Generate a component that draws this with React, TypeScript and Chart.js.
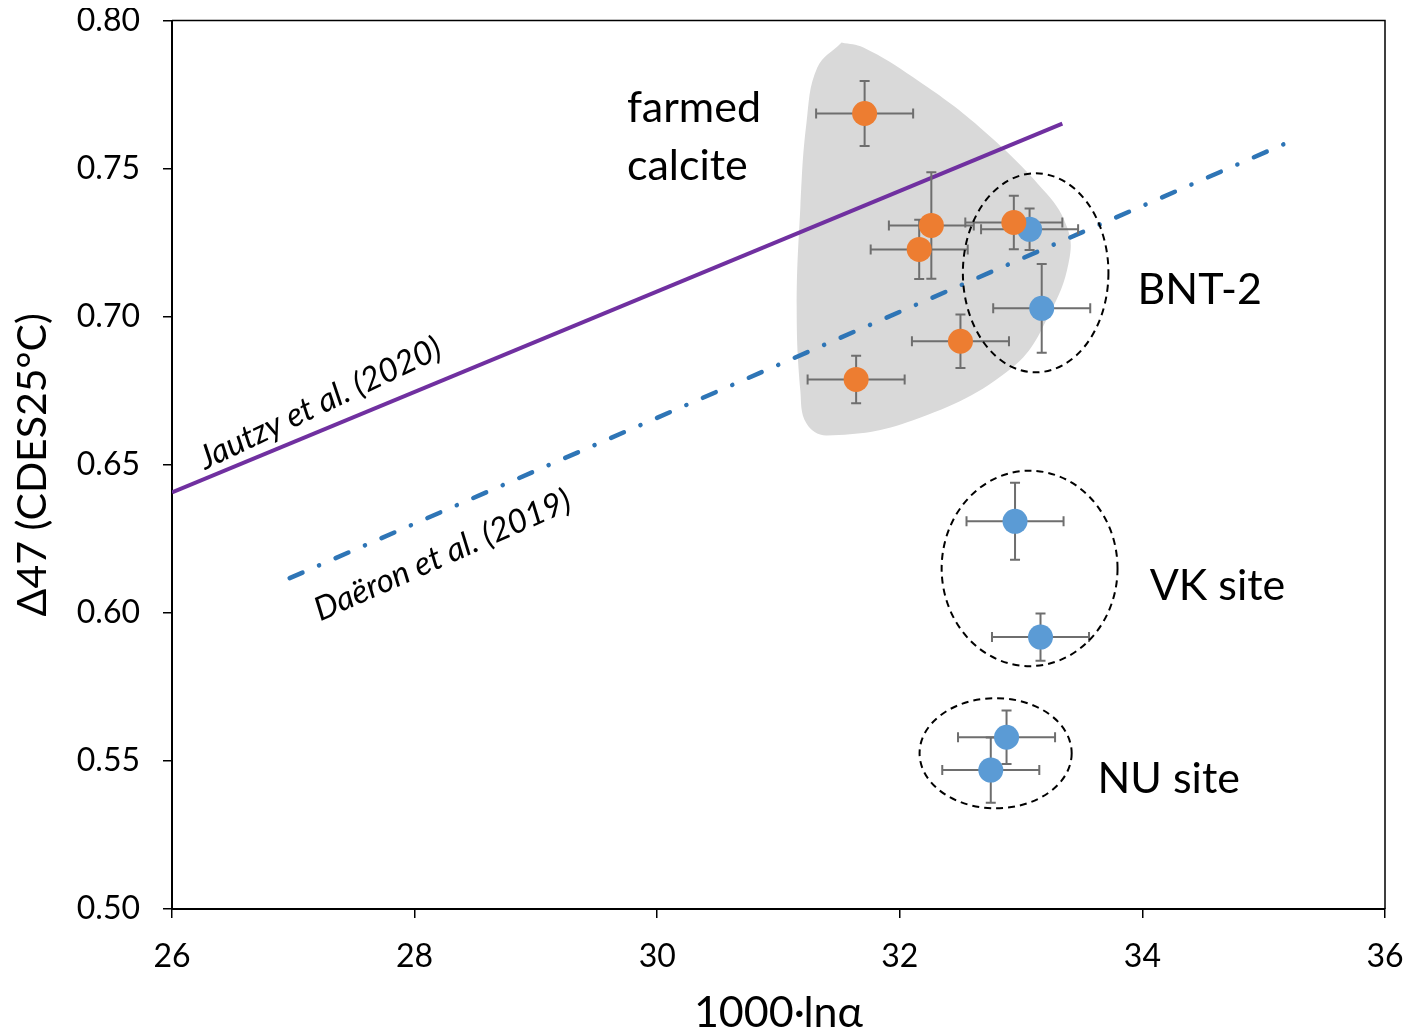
import React, { useEffect, useRef } from 'react';
import { Chart, registerables } from 'chart.js';
Chart.register(...registerables);

// Farmed calcite (orange)
const orangeX = [31.71, 32.26, 32.16, 32.94, 32.5, 31.64];
const orangeY = [0.7686, 0.7308, 0.7227, 0.7318, 0.6917, 0.6788];
const orangeXErr = [0.4, 0.35, 0.4, 0.4, 0.4, 0.4];
const orangeYErr = [0.011, 0.018, 0.01, 0.009, 0.009, 0.008];

// Natural sites (blue)
const blueX = [33.07, 33.17, 32.95, 33.16, 32.88, 32.75];
const blueY = [0.7295, 0.7028, 0.6309, 0.5918, 0.558, 0.5469];
const blueXErr = [0.4, 0.4, 0.4, 0.4, 0.4, 0.4];
const blueYErr = [0.007, 0.015, 0.013, 0.008, 0.009, 0.011];

// Calibration lines
const jautzyX = [26, 33.34];
const jautzyY = [0.6407, 0.7652];
const daeronX = [26.97, 35.22];
const daeronY = [0.6117, 0.7592];

// Grey "farmed calcite" field outline
const shapeX = [31.52, 31.7, 32.11, 32.66, 33.21, 33.38, 33.4, 33.26, 32.93, 32.11, 31.4, 31.23, 31.18, 31.15, 31.18, 31.23, 31.32, 31.52];
const shapeY = [0.7926, 0.7909, 0.7808, 0.7639, 0.7416, 0.7301, 0.72, 0.7031, 0.6829, 0.665, 0.6599, 0.664, 0.6751, 0.7031, 0.7369, 0.7652, 0.7841, 0.7926];

// Dashed group ellipses: BNT-2, VK site, NU site
const ellipseCX = [33.12, 33.07, 32.79];
const ellipseCY = [0.7148, 0.615, 0.5526];
const ellipseRX = [0.6, 0.725, 0.627];
const ellipseRY = [0.0336, 0.033, 0.0186];

// Text annotations
const labelText = ['farmed', 'calcite', 'BNT-2', 'VK site', 'NU site'];
const labelX = [29.75, 29.75, 33.96, 34.06, 33.63];
const labelY = [0.7703, 0.7507, 0.7089, 0.609, 0.5438];

const lineLabelText = ['Jautzy et al. (2020)', 'Daëron et al. (2019)'];
const lineLabelX = [27.22, 28.23];
const lineLabelY = [0.6707, 0.6194];
const lineLabelAngle = [-25.5, -24];

const xTicks = [26, 28, 30, 32, 34, 36];
const yTicks = [0.5, 0.55, 0.6, 0.65, 0.7, 0.75, 0.8];

const FONT = 'Lato, "Open Sans", sans-serif';

const toPts = (xs: number[], ys: number[]) => xs.map((x, i) => ({ x, y: ys[i] }));

const overlay = {
  id: 'overlay',
  beforeDatasetDraw(chart: any, args: any) {
    if (args.index !== 3) return; // before blue points
    const { ctx, scales } = chart;
    const xs = scales.x, ys = scales.y;
    const cap = 5;
    ctx.save();
    ctx.strokeStyle = '#6e6e6e';
    ctx.lineWidth = 2;
    const drawSet = (X: number[], Y: number[], XE: number[], YE: number[]) => {
      for (let i = 0; i < X.length; i++) {
        const px = xs.getPixelForValue(X[i]);
        const py = ys.getPixelForValue(Y[i]);
        const x1 = xs.getPixelForValue(X[i] - XE[i]);
        const x2 = xs.getPixelForValue(X[i] + XE[i]);
        const y1 = ys.getPixelForValue(Y[i] + YE[i]);
        const y2 = ys.getPixelForValue(Y[i] - YE[i]);
        ctx.beginPath();
        ctx.moveTo(x1, py); ctx.lineTo(x2, py);
        ctx.moveTo(x1, py - cap); ctx.lineTo(x1, py + cap);
        ctx.moveTo(x2, py - cap); ctx.lineTo(x2, py + cap);
        ctx.moveTo(px, y1); ctx.lineTo(px, y2);
        ctx.moveTo(px - cap, y1); ctx.lineTo(px + cap, y1);
        ctx.moveTo(px - cap, y2); ctx.lineTo(px + cap, y2);
        ctx.stroke();
      }
    };
    drawSet(blueX, blueY, blueXErr, blueYErr);
    drawSet(orangeX, orangeY, orangeXErr, orangeYErr);
    ctx.restore();
  },
  afterDatasetsDraw(chart: any) {
    const { ctx, scales, chartArea } = chart;
    const xs = scales.x, ys = scales.y;
    ctx.save();
    // frame
    ctx.strokeStyle = '#000';
    ctx.lineWidth = 1.5;
    ctx.beginPath();
    ctx.moveTo(chartArea.left, chartArea.top);
    ctx.lineTo(chartArea.right, chartArea.top);
    ctx.lineTo(chartArea.right, chartArea.bottom);
    ctx.stroke();
    // ellipses
    ctx.setLineDash([7, 5]);
    ctx.lineWidth = 2;
    for (let i = 0; i < ellipseCX.length; i++) {
      const cx = xs.getPixelForValue(ellipseCX[i]);
      const cy = ys.getPixelForValue(ellipseCY[i]);
      const rx = Math.abs(xs.getPixelForValue(ellipseCX[i] + ellipseRX[i]) - cx);
      const ry = Math.abs(ys.getPixelForValue(ellipseCY[i] + ellipseRY[i]) - cy);
      ctx.beginPath();
      ctx.ellipse(cx, cy, rx, ry, 0, 0, Math.PI * 2);
      ctx.stroke();
    }
    ctx.setLineDash([]);
    // labels
    ctx.fillStyle = '#000';
    ctx.font = `43px ${FONT}`;
    ctx.textBaseline = 'middle';
    ctx.textAlign = 'left';
    for (let i = 0; i < labelText.length; i++) {
      ctx.fillText(labelText[i], xs.getPixelForValue(labelX[i]), ys.getPixelForValue(labelY[i]));
    }
    ctx.font = `italic 33px ${FONT}`;
    ctx.textAlign = 'center';
    for (let i = 0; i < lineLabelText.length; i++) {
      ctx.save();
      ctx.translate(xs.getPixelForValue(lineLabelX[i]), ys.getPixelForValue(lineLabelY[i]));
      ctx.rotate((lineLabelAngle[i] * Math.PI) / 180);
      ctx.fillText(lineLabelText[i], 0, 0);
      ctx.restore();
    }
    ctx.restore();
  },
};

export default function App() {
  const ref = useRef<HTMLCanvasElement>(null);
  useEffect(() => {
    if (!ref.current) return;
    const chart = new Chart(ref.current, {
      type: 'scatter',
      data: {
        datasets: [
          {
            label: 'farmed calcite',
            data: toPts(orangeX, orangeY),
            backgroundColor: '#ED7D31',
            borderWidth: 0,
            pointRadius: 12.5,
            order: 1,
          },
          {
            label: 'Jautzy et al. (2020)',
            data: toPts(jautzyX, jautzyY),
            showLine: true,
            borderColor: '#7030A0',
            borderWidth: 4,
            pointRadius: 0,
            order: 4,
          },
          {
            label: 'Daëron et al. (2019)',
            data: toPts(daeronX, daeronY),
            showLine: true,
            borderColor: '#2E75B6',
            borderWidth: 4.5,
            borderDash: [14, 18, 0.1, 18],
            borderCapStyle: 'round',
            pointRadius: 0,
            order: 3,
          },
          {
            label: 'natural sites',
            data: toPts(blueX, blueY),
            backgroundColor: '#5B9BD5',
            borderWidth: 0,
            pointRadius: 12.5,
            order: 2,
          },
          {
            label: 'farmed field',
            data: toPts(shapeX, shapeY),
            showLine: true,
            fill: 'shape',
            backgroundColor: '#D9D9D9',
            borderColor: '#D9D9D9',
            borderWidth: 0,
            tension: 0.4,
            pointRadius: 0,
            order: 5,
          },
        ],
      },
      options: {
        animation: false,
        responsive: false,
        events: [],
        layout: { padding: { left: 0, right: 28, top: 12, bottom: 0 } },
        plugins: { legend: { display: false }, tooltip: { enabled: false } },
        scales: {
          x: {
            type: 'linear',
            min: 26,
            max: 36,
            afterBuildTicks: (s: any) => { s.ticks = xTicks.map((v) => ({ value: v })); },
            afterFit: (s: any) => { s.height = 119; s.paddingLeft = 0; s.paddingRight = 0; },
            grid: { drawOnChartArea: false, drawTicks: true, tickLength: 9, color: '#000', lineWidth: 1.5 },
            border: { display: true, color: '#000', width: 2 },
            ticks: { color: '#000', padding: 19, font: { family: FONT, size: 32 } },
            title: { display: true, text: '1000·lnα', color: '#000', font: { family: FONT, size: 43, lineHeight: 0.7 }, padding: 0 },
          },
          y: {
            type: 'linear',
            min: 0.5,
            max: 0.8,
            afterBuildTicks: (s: any) => { s.ticks = yTicks.map((v) => ({ value: v })); },
            afterFit: (s: any) => { s.width = 164; s.paddingTop = 0; s.paddingBottom = 0; },
            grid: { drawOnChartArea: false, drawTicks: true, tickLength: 9, color: '#000', lineWidth: 1.5 },
            border: { display: true, color: '#000', width: 2 },
            ticks: { color: '#000', padding: 23, font: { family: FONT, size: 32 }, callback: (v: any) => Number(v).toFixed(2) },
            title: { display: true, text: 'Δ47 (CDES25°C)', color: '#000', font: { family: FONT, size: 41 }, padding: { top: 0, bottom: 0 } },
          },
        },
      },
      plugins: [overlay],
    } as any);
    return () => chart.destroy();
  }, []);
  return (
    <div style={{ width: 1405, height: 1020 }}>
      <canvas ref={ref} width={1405} height={1020} style={{ display: 'block' }} />
    </div>
  );
}
